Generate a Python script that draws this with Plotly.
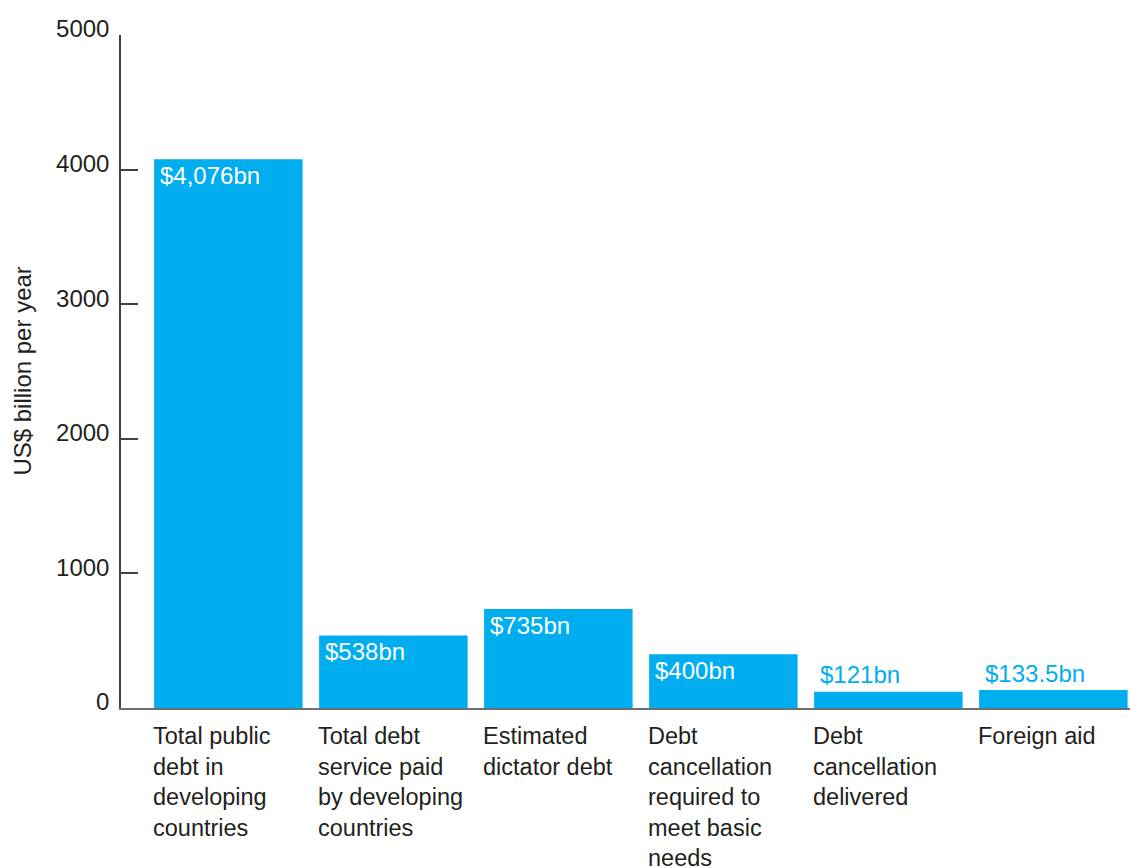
import plotly.graph_objects as go

# Debt and aid figures, US$ billion per year
categories = [
    "Total public<br>debt in<br>developing<br>countries",
    "Total debt<br>service paid<br>by developing<br>countries",
    "Estimated<br>dictator debt",
    "Debt<br>cancellation<br>required to<br>meet basic<br>needs",
    "Debt<br>cancellation<br>delivered",
    "Foreign aid",
]
values = [4076, 538, 735, 400, 121, 133.5]
value_labels = ["$4,076bn", "$538bn", "$735bn", "$400bn", "$121bn", "$133.5bn"]
y_ticks = [0, 1000, 2000, 3000, 4000, 5000]

BLUE = "#00AEEF"
TEXT = "#231F20"
FONT = "Liberation Sans"
BAR_WIDTH = 0.9
INSIDE_MIN = 300  # bars tall enough to hold their label

xs = list(range(len(values)))

fig = go.Figure(
    go.Bar(
        x=xs,
        y=values,
        width=BAR_WIDTH,
        marker=dict(color=BLUE, line=dict(width=0)),
        hoverinfo="skip",
    )
)

annotations = []
for i, (v, lab, cat) in enumerate(zip(values, value_labels, categories)):
    left = i - BAR_WIDTH / 2
    inside = v >= INSIDE_MIN
    annotations.append(
        dict(
            x=left, y=v, xref="x", yref="y",
            text=lab, showarrow=False,
            xanchor="left", yanchor="middle",
            xshift=4, yshift=-16 if inside else 17,
            font=dict(family=FONT, size=24, color="white" if inside else BLUE),
        )
    )
    annotations.append(
        dict(
            x=left, y=0, xref="x", yref="paper",
            text=cat, showarrow=False, align="left",
            xanchor="left", yanchor="top",
            xshift=-3, yshift=-13,
            font=dict(family=FONT, size=23.5, color=TEXT),
        )
    )

annotations.append(
    dict(
        x=-0.098, y=0.5, xref="paper", yref="paper",
        text="US$ billion per year", showarrow=False, textangle=-90,
        xanchor="center", yanchor="middle",
        font=dict(family=FONT, size=24, color=TEXT),
    )
)

fig.update_layout(
    width=1130,
    height=868,
    margin=dict(l=121, r=0, t=35, b=160),
    paper_bgcolor="white",
    plot_bgcolor="white",
    showlegend=False,
    font=dict(family=FONT, color=TEXT),
    annotations=annotations,
    xaxis=dict(
        range=[-0.6506, 5.4645],
        showticklabels=False,
        showgrid=False,
        zeroline=False,
        showline=True,
        linecolor="#6D6E71",
        linewidth=2,
        ticks="",
        fixedrange=True,
    ),
    yaxis=dict(
        range=[0, 5000],
        tickvals=y_ticks,
        ticktext=[str(t) for t in y_ticks],
        ticks="inside",
        ticklen=17,
        tickwidth=1.5,
        tickcolor="#414042",
        showline=True,
        linecolor="#414042",
        linewidth=1.5,
        showgrid=False,
        zeroline=False,
        ticklabelshift=-6,
        ticklabelstandoff=5,
        tickfont=dict(family=FONT, size=24, color=TEXT),
        fixedrange=True,
    ),
)

fig.write_html("out.html")
